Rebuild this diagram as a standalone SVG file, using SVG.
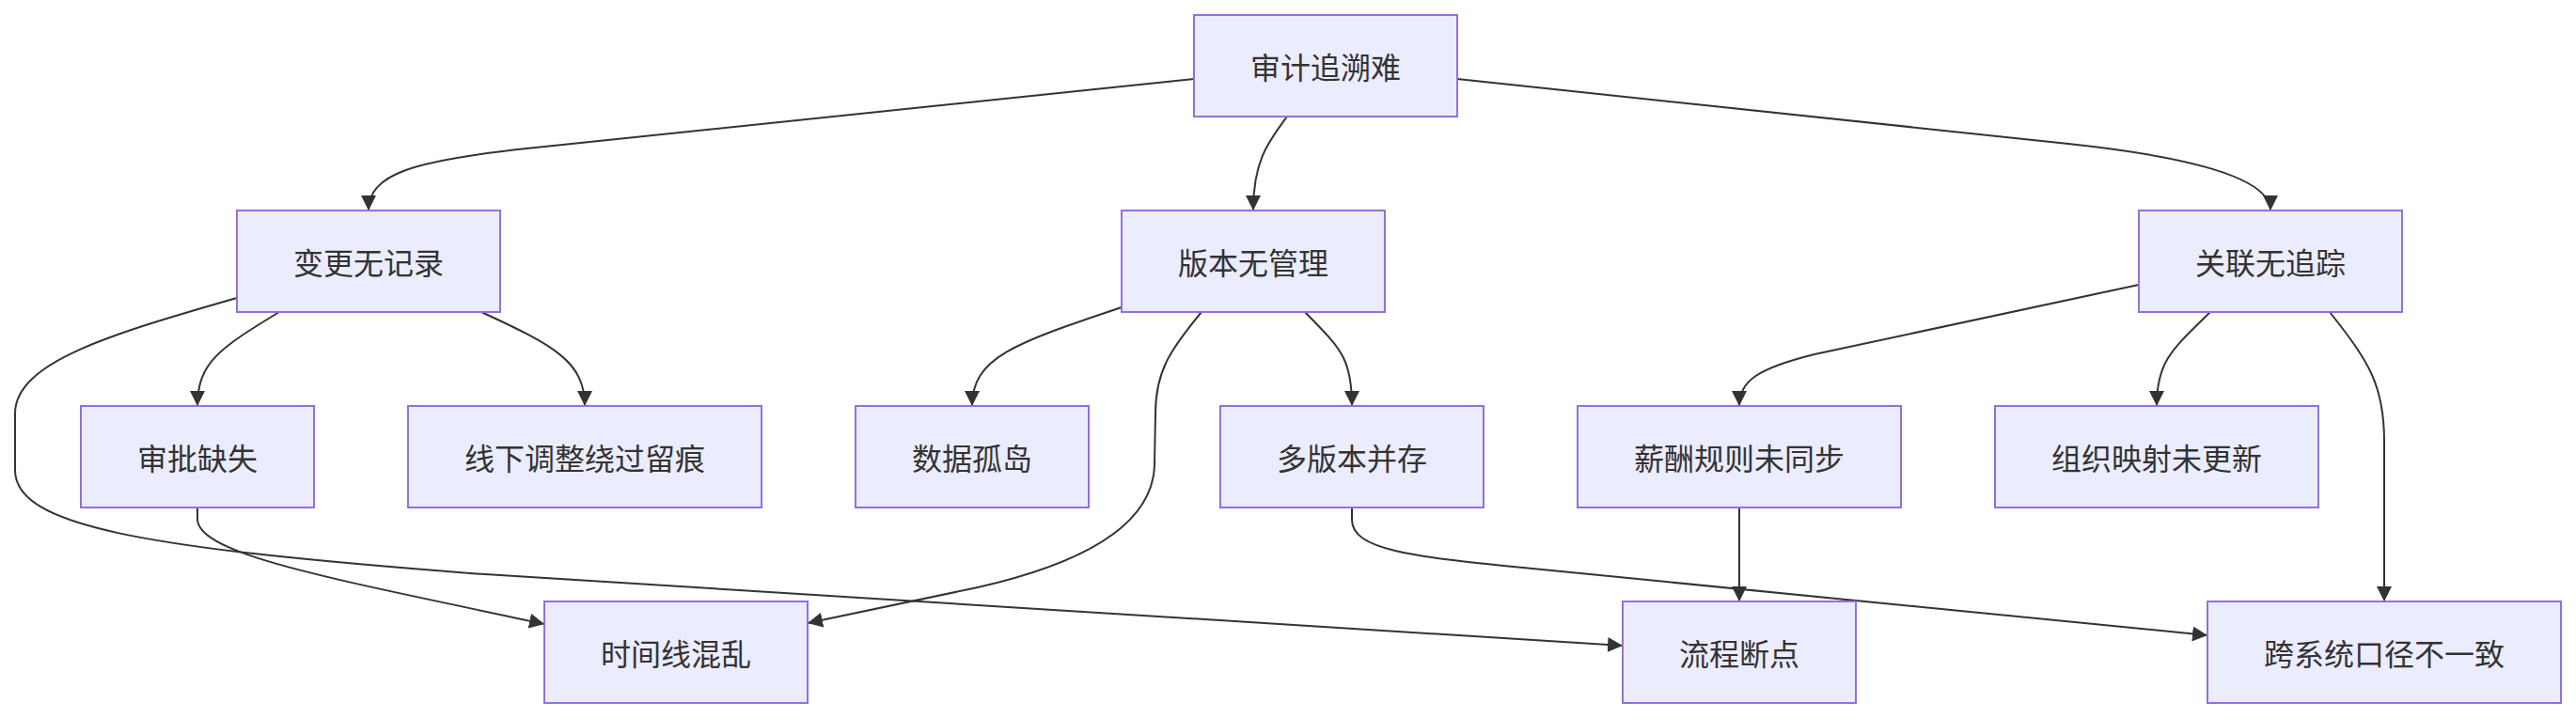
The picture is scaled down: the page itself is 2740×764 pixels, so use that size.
<svg xmlns="http://www.w3.org/2000/svg" width="2740" height="764" viewBox="0 0 2740 764">
<style>
.node rect{fill:#ECECFF;stroke:#9370DB;stroke-width:2px}
.node text{font-family:"Noto Sans CJK SC","Noto Sans",sans-serif;font-size:32px;fill:#333333;text-anchor:middle;dominant-baseline:central}
.edges path{fill:none;stroke:#333333;stroke-width:2px;marker-end:url(#arrow)}
</style>
<defs>
<marker id="arrow" viewBox="0 0 10 10" refX="10" refY="5" markerUnits="userSpaceOnUse" markerWidth="16" markerHeight="16" orient="auto">
<path d="M0,0 L10,5 L0,10 z" fill="#333333"/>
</marker>
</defs>
<rect width="2740" height="764" fill="#ffffff"/>
<g class="edges" id="connectors">
<path d="M1270,84 L560,158 C440,171 392,185 392,224"/>
<path d="M1369,124 C1350,150 1333,170 1333,224"/>
<path d="M1550,84 L2200,153 Q2415,176 2415,224"/>
<path d="M297,332 C235,370 210,385 210,432"/>
<path d="M512,332 C590,368 622,385 622,432"/>
<path d="M252,317 C120,355 16,385 16,440 L16,500 C16,560 150,583 500,610 L1726,687"/>
<path d="M1193,327 C1080,365 1034,380 1034,432"/>
<path d="M1278,332 C1245,372 1229,395 1229,440 L1228,495 C1226,560 1150,600 1040,625 L859,663"/>
<path d="M1388,332 C1425,370 1438,380 1438,432"/>
<path d="M210,540 L210,552 C210,590 350,615 579,664"/>
<path d="M1438,540 L1438,553 C1438,585 1500,592 1620,604 L2348,676"/>
<path d="M2275,303 L1930,377 C1870,392 1850,405 1850,432"/>
<path d="M2351,332 C2310,372 2294,385 2294,432"/>
<path d="M2478,332 C2520,385 2536,410 2536,470 L2536,640"/>
<path d="M1850,540 L1850,640"/>
</g>
<g class="node" id="n-root"><rect x="1270" y="16" width="280" height="108"/><text x="1410" y="70">审计追溯难</text></g>
<g class="node" id="n-change"><rect x="252" y="224" width="280" height="108"/><text x="392" y="278">变更无记录</text></g>
<g class="node" id="n-version"><rect x="1193" y="224" width="280" height="108"/><text x="1333" y="278">版本无管理</text></g>
<g class="node" id="n-link"><rect x="2275" y="224" width="280" height="108"/><text x="2415" y="278">关联无追踪</text></g>
<g class="node" id="n-approve"><rect x="86" y="432" width="248" height="108"/><text x="210" y="486">审批缺失</text></g>
<g class="node" id="n-offline"><rect x="434" y="432" width="376" height="108"/><text x="622" y="486">线下调整绕过留痕</text></g>
<g class="node" id="n-island"><rect x="910" y="432" width="248" height="108"/><text x="1034" y="486">数据孤岛</text></g>
<g class="node" id="n-multi"><rect x="1298" y="432" width="280" height="108"/><text x="1438" y="486">多版本并存</text></g>
<g class="node" id="n-salary"><rect x="1678" y="432" width="344" height="108"/><text x="1850" y="486">薪酬规则未同步</text></g>
<g class="node" id="n-org"><rect x="2122" y="432" width="344" height="108"/><text x="2294" y="486">组织映射未更新</text></g>
<g class="node" id="n-timeline"><rect x="579" y="640" width="280" height="108"/><text x="719" y="694">时间线混乱</text></g>
<g class="node" id="n-break"><rect x="1726" y="640" width="248" height="108"/><text x="1850" y="694">流程断点</text></g>
<g class="node" id="n-cross"><rect x="2348" y="640" width="376" height="108"/><text x="2536" y="694">跨系统口径不一致</text></g>
</svg>
